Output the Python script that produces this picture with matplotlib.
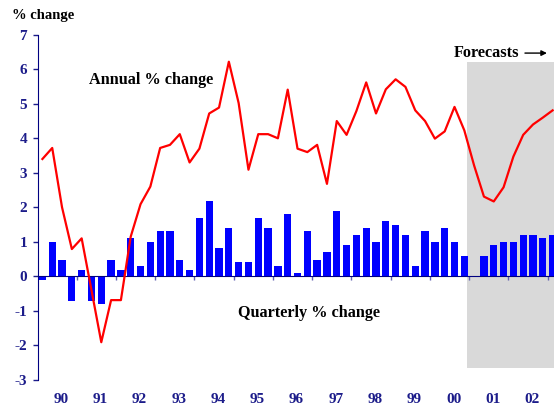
"""Quarterly and annual % change bar/line chart with forecast shading."""
import numpy as np
import matplotlib
matplotlib.use("Agg")
import matplotlib.pyplot as plt
import matplotlib.transforms as mtransforms

plt.rcParams["font.family"] = ["Liberation Serif", "DejaVu Serif"]
plt.rcParams["font.weight"] = "bold"
plt.rcParams["axes.unicode_minus"] = False

# quarterly % change, 1990Q1 .. 2003Q1 (2001Q1 not shown)
quarterly = [
    -0.1, 1.0, 0.47, -0.72,
    0.17, -0.72, -0.8, 0.47,
    0.18, 1.1, 0.3, 1.0,
    1.31, 1.31, 0.47, 0.18,
    1.69, 2.18, 0.82, 1.4,
    0.41, 0.41, 1.69, 1.4,
    0.3, 1.81, 0.1, 1.31,
    0.47, 0.7, 1.89, 0.91,
    1.2, 1.4, 1.0, 1.6,
    1.49, 1.2, 0.3, 1.31,
    1.0, 1.4, 1.0, 0.59,
    np.nan, 0.59, 0.91, 1.0,
    1.0, 1.2, 1.2, 1.11,
    1.2,
]

# annual % change, same quarters
annual = [
    3.4, 3.72, 2.0, 0.79,
    1.1, -0.4, -1.91, -0.69,
    -0.69, 1.15, 2.09, 2.6,
    3.72, 3.81, 4.12, 3.3,
    3.7, 4.72, 4.89, 6.22,
    5.02, 3.09, 4.12, 4.12,
    4.0, 5.41, 3.7, 3.6,
    3.81, 2.68, 4.5, 4.1,
    4.79, 5.62, 4.72, 5.42,
    5.71, 5.49, 4.81, 4.5,
    3.99, 4.2, 4.91, 4.23,
    3.21, 2.31, 2.17, 2.58,
    3.47, 4.1, 4.4, 4.6,
    4.81,
]

year_labels = ["90", "91", "92", "93", "94", "95", "96", "97", "98", "99", "00", "01", "02"]
start_year = 1990
forecast_start = 2000.95

navy = "#1c1c8a"

fig = plt.figure(figsize=(5.54, 4.07), dpi=100)
ax = fig.add_axes([0.0677, 0.0668, 0.9323, 0.8477])

x = start_year + (np.arange(len(quarterly)) + 0.5) / 4.0

ax.axvspan(forecast_start, 2004, ymin=(-2.65 + 3) / 10, ymax=(6.2 + 3) / 10,
           color="#d9d9d9", lw=0, zorder=0)
ax.bar(x, quarterly, width=0.186, color="#0000ff", zorder=2)
ax.plot(x, annual, color="#ff0000", lw=1.6, zorder=3)

ax.set_xlim(start_year, 2003.16)
ax.set_ylim(-3, 7)
ax.set_yticks(range(-3, 8))
ax.tick_params(axis="y", colors=navy, length=3.5, width=1, labelsize=11, pad=4)
for lab in ax.get_yticklabels():
    lab.set_fontweight("bold")
    lab.set_color(navy)

ax.spines["top"].set_visible(False)
ax.spines["right"].set_visible(False)
ax.spines["left"].set_color("#000080")
ax.spines["bottom"].set_color("#000080")
ax.spines["bottom"].set_position(("data", 0))
ax.set_xticks(np.arange(start_year + 1, 2004))
ax.set_xticklabels([])
ax.tick_params(axis="x", colors="#6060b0", length=3, width=1)

trans = mtransforms.blended_transform_factory(ax.transData, fig.transFigure)
for i, lab in enumerate(year_labels):
    ax.text(start_year + i + 0.6, 0.018, lab, transform=trans, ha="center", va="center",
            fontsize=11, fontweight="bold", color=navy)

fig.text(0.022, 0.963, "% change", fontsize=10.5, fontweight="bold", ha="left", va="center")
ax.text(1992.9, 5.68, "Annual % change", fontsize=11.7, fontweight="bold", ha="center", va="center")
ax.text(1996.93, -1.07, "Quarterly % change", fontsize=11.7, fontweight="bold", ha="center", va="center")
ax.text(2001.43, 6.47, "Forecasts", fontsize=11.7, fontweight="bold", ha="center", va="center")
ax.annotate("", xy=(2002.98, 6.47), xytext=(2002.42, 6.47),
            arrowprops=dict(arrowstyle="-|>", color="black", lw=1.0,
                            mutation_scale=8, shrinkA=0, shrinkB=0))

fig.savefig("out.png", dpi=100)
